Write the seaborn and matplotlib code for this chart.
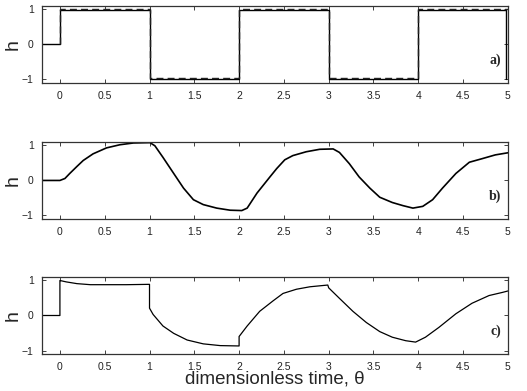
import numpy as np
import pandas as pd
import matplotlib
matplotlib.use("Agg")
import matplotlib.pyplot as plt
import seaborn as sns

sns.set_theme(style="white")
plt.rcParams['font.family'] = ['Liberation Sans', 'DejaVu Sans']

# Panel a: square wave (solid) and target (dashed)
a_x = [-0.2, 0.0, 0.0, 1.0, 1.0, 2.0, 2.0, 3.0, 3.0, 4.0, 4.0, 4.98, 4.98]
a_y = [0.0, 0.0, 0.99, 0.99, -1.0, -1.0, 0.99, 0.99, -1.0, -1.0, 0.99, 0.99, -1.0]
a_dx = [0.0, 0.0, 1.0, 1.0, 2.0, 2.0, 3.0, 3.0, 4.0, 4.0, 5.0]
a_dy = [0.0, 1.02, 1.02, -0.97, -0.97, 1.02, 1.02, -0.97, -0.97, 1.02, 1.02]

# Panel b
b_x = [-0.2, 0.0, 0.056, 0.11, 0.19, 0.26, 0.37, 0.52, 0.67, 0.82, 1.005, 1.06, 1.15, 1.27,
       1.38, 1.49, 1.60, 1.75, 1.90, 2.03, 2.09, 2.20, 2.35, 2.42, 2.51, 2.60, 2.75, 2.90,
       3.05, 3.12, 3.23, 3.34, 3.46, 3.57, 3.71, 3.83, 3.94, 4.05, 4.16, 4.27, 4.42, 4.57,
       4.71, 4.86, 5.0]
b_y = [0.0, 0.0, 0.056, 0.20, 0.40, 0.57, 0.76, 0.93, 1.02, 1.07, 1.08, 0.99, 0.66, 0.20,
       -0.22, -0.55, -0.69, -0.79, -0.85, -0.86, -0.79, -0.36, 0.12, 0.34, 0.59, 0.71, 0.82, 0.89,
       0.90, 0.80, 0.48, 0.10, -0.22, -0.48, -0.63, -0.72, -0.79, -0.74, -0.55, -0.22, 0.20, 0.52,
       0.62, 0.73, 0.79]

# Panel c
c_x = [-0.2, 0.0, 0.0, 0.07, 0.19, 0.34, 0.52, 0.74, 1.0, 1.0, 1.04, 1.15, 1.27, 1.42, 1.60,
       1.79, 2.0, 2.0, 2.09, 2.23, 2.38, 2.49, 2.64, 2.79, 2.99, 3.0, 3.12, 3.27, 3.42, 3.57,
       3.71, 3.86, 3.97, 4.08, 4.23, 4.42, 4.60, 4.79, 4.94, 5.0]
c_y = [0.0, 0.0, 1.0, 0.96, 0.91, 0.88, 0.88, 0.88, 0.89, 0.21, 0.03, -0.30, -0.51, -0.70, -0.81,
       -0.86, -0.87, -0.60, -0.30, 0.12, 0.42, 0.63, 0.75, 0.82, 0.87, 0.79, 0.49, 0.12, -0.20, -0.46,
       -0.62, -0.72, -0.76, -0.62, -0.34, 0.05, 0.35, 0.57, 0.66, 0.70]

xticks = [0, 0.5, 1, 1.5, 2, 2.5, 3, 3.5, 4, 4.5, 5]
xticklabels = ["0", "0.5", "1", "1.5", "2", "2.5", "3", "3.5", "4", "4.5", "5"]
yticks = [-1, 0, 1]
yticklabels = ["\u22121", "0", "1"]
panel_labels = ["a)", "b)", "c)"]

fig = plt.figure(figsize=(5.27, 3.91), dpi=100)
left, width = 0.0797, 0.884
bottoms = [0.788, 0.440, 0.0946]
height = 0.197
axes = [fig.add_axes([left, b, width, height]) for b in bottoms]

def draw(ax, x, y, **kw):
    df = pd.DataFrame({"x": x, "y": y})
    sns.lineplot(data=df, x="x", y="y", sort=False, estimator=None, ax=ax, **kw)

draw(axes[0], a_x, a_y, color="black", linewidth=1.0)
draw(axes[0], a_dx, a_dy, color="#222222", linewidth=1.0, linestyle=(0, (5, 3)))
draw(axes[1], b_x, b_y, color="black", linewidth=1.2)
draw(axes[2], c_x, c_y, color="black", linewidth=0.9)

for ax, lab in zip(axes, panel_labels):
    ax.set_xlim(-0.2, 5.0)
    ax.set_ylim(-1.1, 1.1)
    ax.set_xticks(xticks)
    ax.set_xticklabels(xticklabels, fontsize=7.5, color="#222222")
    ax.set_yticks(yticks)
    ax.set_yticklabels(yticklabels, fontsize=7.5, color="#222222")
    ax.tick_params(direction="in", length=3, width=0.6, top=True, right=True,
                   bottom=True, left=True, pad=6, colors="#222222")
    for s in ax.spines.values():
        s.set_color("#333333")
        s.set_linewidth(0.9)
    ax.set_xlabel("")
    ax.set_ylabel("h", fontsize=14, va="center", ha="center")
    ax.yaxis.set_label_coords(-0.063, 0.5)
    ax.text(4.93, -0.45, lab, fontsize=10, fontweight="bold", family="Liberation Serif",
            ha="right", va="center")

axes[2].set_xlabel("dimensionless time, \u03b8", fontsize=13.5, labelpad=-1)

fig.savefig("out.png", dpi=100)
